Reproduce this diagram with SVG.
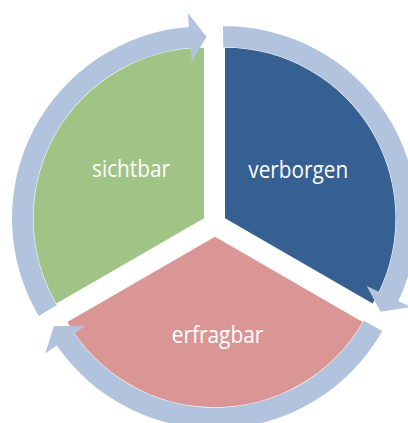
<svg xmlns="http://www.w3.org/2000/svg" width="408" height="423" viewBox="0 0 408 423">
  <style>
    .lbl { font-family: "Open Sans", "Liberation Sans", sans-serif; font-size: 24px; fill: #ffffff; text-anchor: middle; }
    .arrow { fill: #B2C3DE; stroke: none; }
  </style>
  <rect width="408" height="423" fill="#ffffff"/>
  <g id="node-sichtbar">
    <path d="M204,218.3 L204,47.8 A170.5,170.5 0 0 0 56.35,303.55 Z" fill="#A0C386"/>
    <text class="lbl" x="131" y="177" textLength="78" lengthAdjust="spacingAndGlyphs">sichtbar</text>
  </g>
  <g id="node-verborgen">
    <path d="M225,218.3 L225,47.8 A170.5,170.5 0 0 1 372.65,303.55 Z" fill="#366092"/>
    <text class="lbl" x="298.3" y="177.5" textLength="100" lengthAdjust="spacingAndGlyphs">verborgen</text>
  </g>
  <g id="node-erfragbar">
    <path d="M215,236.7 L362.65,321.95 A170.5,170.5 0 0 1 67.35,321.95 Z" fill="#D99694"/>
    <text class="lbl" x="217.5" y="343" textLength="91.5" lengthAdjust="spacingAndGlyphs">erfragbar</text>
  </g>
  <g id="connectors">
    <path class="arrow" d="M38.75,316.03 A192,192 0 0 1 188.94,26.89 L187.84,12.93 L206.53,36.82 L191.68,61.78 L190.58,47.83 A171,171 0 0 0 56.82,305.34 Z"/>
    <path class="arrow" d="M222.99,26.31 A192,192 0 0 1 398.30,300.96 L410.93,306.99 L380.58,311.78 L366.71,285.89 L379.34,291.92 A171,171 0 0 0 223.21,47.31 Z"/>
    <path class="arrow" d="M382.27,330.95 A192,192 0 0 1 56.77,345.45 L45.23,353.38 L54.07,325.9 L85.61,325.63 L74.07,333.56 A171,171 0 0 0 363.98,320.64 Z"/>
  </g>
</svg>
